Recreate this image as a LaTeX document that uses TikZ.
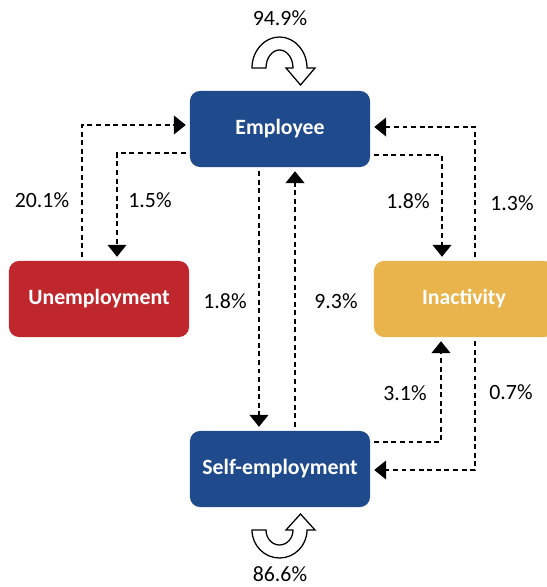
\documentclass[tikz,border=0pt]{standalone}
\usepackage{fontspec}
\setmainfont{Carlito}
\usepackage{tikz}
\usetikzlibrary{calc, positioning, arrows.meta}
\definecolor{empblue}{RGB}{31,74,140}
\definecolor{unred}{RGB}{192,39,45}
\definecolor{inyellow}{RGB}{233,180,76}

\begin{document}
\begin{tikzpicture}[x=0.025cm, y=0.025cm,
        statenode/.style={rectangle, rounded corners=0.25cm, minimum width=4.5cm, minimum height=1.9cm,
            inner sep=0pt, text=white, font=\fontsize{15.5}{18}\selectfont\bfseries},
        flow/.style={->, dash pattern=on 3.5pt off 2.6pt, line width=0.85pt, shorten <=2.8pt, shorten >=2.8pt},
        stay/.style={draw=black, fill=white, line width=0.9pt, line join=miter},
        >={Triangle[width=13.5pt,length=8.5pt]}]
        \tikzstyle{every node}=[font=\fontsize{15.5}{18}\selectfont, inner sep=0.5pt]
        \clip (0,0) rectangle (547,587);

            % states
            \node[statenode, fill=empblue] (emp) at (280,458) {Employee};
            \node[statenode, fill=unred] (unemp) at (99,288) {Unemployment};
            \node[statenode, fill=inyellow] (inact) at (464,288) {Inactivity};
            \node[statenode, fill=empblue] (self) at (280,118) {Self-employment};

            % transitions
            \draw[flow] ($(unemp.north)+(-17,0)$) |- ($(emp.west)+(0,4)$);
            \draw[flow] ($(emp.west)+(0,-24)$) -| ($(unemp.north)+(18,0)$);
            \draw[flow] ($(emp.south)+(-21,0)$) -- ($(self.north)+(-21,0)$);
            \draw[flow] ($(self.north)+(15,0)$) -- ($(emp.south)+(15,0)$);
            \draw[flow] ($(emp.east)+(0,-26)$) -| ($(inact.north)+(-22,0)$);
            \draw[flow] ($(inact.north)+(11,0)$) |- ($(emp.east)+(0,2)$);
            \draw[flow] ($(self.east)+(0,27)$) -| ($(inact.south)+(-23,0)$);
            \draw[flow] ($(inact.south)+(11,0)$) |- ($(self.east)+(0,-1)$);

            % staying in the same state
            \draw[stay] (252,519) arc[start angle=180, end angle=0, x radius=27.5, y radius=31]
                -- (315,519) -- (300.5,502) -- (286,519) -- (293,519)
                arc[start angle=0, end angle=180, x radius=13.5, y radius=18] -- cycle;
            \draw[stay] (252,57) arc[start angle=180, end angle=360, x radius=27.5, y radius=28]
                -- (315,57) -- (300.5,73) -- (286,57) -- (293,57)
                arc[start angle=360, end angle=180, x radius=13.5, y radius=15] -- cycle;

            % shares
            \node (stayemp) at (280,569) {94.9\%};
            \node (stayself) at (280,12.5) {86.6\%};
            \node (unemp2emp) at (42,387) {20.1\%};
            \node (emp2unemp) at (150,387) {1.5\%};
            \node (emp2inact) at (408,386) {1.8\%};
            \node (inact2emp) at (512,384) {1.3\%};
            \node (emp2self) at (225,286) {1.8\%};
            \node (self2emp) at (336,286) {9.3\%};
            \node (self2inact) at (405,194) {3.1\%};
            \node (inact2self) at (511,195) {0.7\%};
\end{tikzpicture}
\end{document}
